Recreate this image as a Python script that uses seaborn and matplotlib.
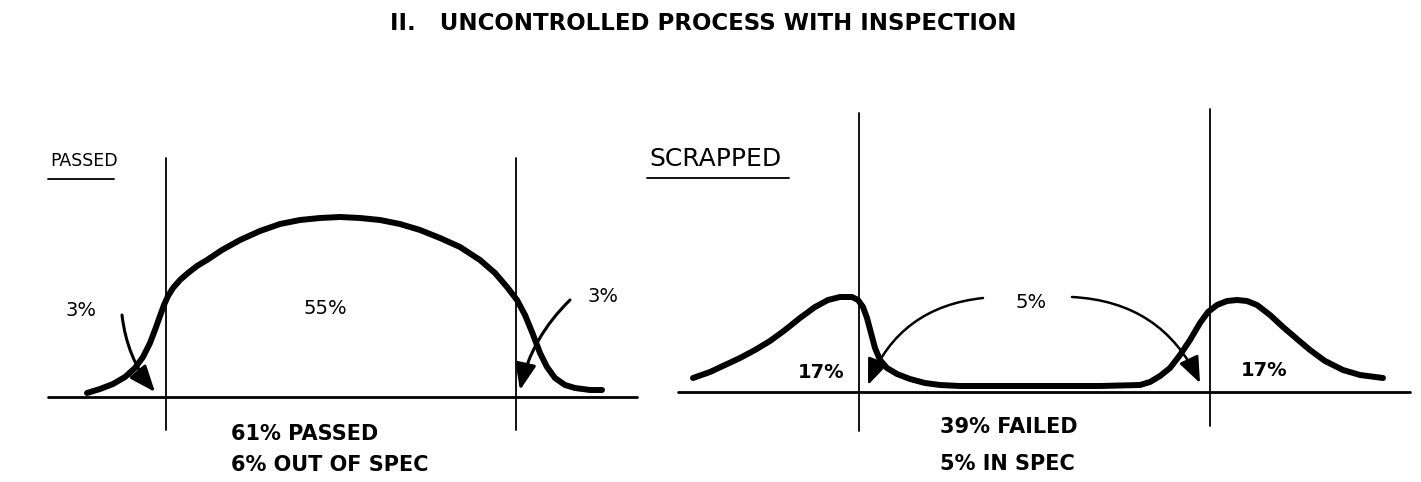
import matplotlib
matplotlib.use("Agg")
import matplotlib.pyplot as plt
import seaborn as sns
import pandas as pd
from matplotlib.patches import FancyArrowPatch

sns.set_theme(style="white")
plt.rcParams['font.family'] = ['DejaVu Sans']
plt.rcParams['text.color'] = 'black'

# ---- data (pixel-space readings from the reference) ----
title = "II.   UNCONTROLLED PROCESS WITH INSPECTION"

# PASSED panel: distribution curve (x, height)
passed_x = [87, 100, 113, 125, 135, 143, 150, 155, 160, 164, 168, 173, 180, 188, 197, 207, 222, 240, 260, 280, 300, 320,
            340, 360, 380, 400, 420, 440, 460, 480, 495, 507, 517, 525, 532, 540, 547, 555, 565, 575, 590, 602]
passed_y = [393, 389, 384, 377, 368, 357, 343, 330, 316, 305, 296, 288, 280, 273, 266, 260, 250, 240, 231, 224, 220, 218,
            217, 218, 220, 224, 230, 238, 247, 260, 273, 287, 300, 315, 332, 353, 367, 378, 385, 388, 390, 390]

# SCRAPPED panel: bimodal curve
scrap_x = [693, 710, 725, 740, 755, 770, 785, 800, 815, 828, 840, 852, 858, 863, 867, 871, 875, 880, 887, 897,
           910, 925, 940, 960, 1000, 1050, 1100, 1140, 1150, 1160, 1170, 1180, 1190, 1200, 1208, 1217, 1227,
           1237, 1247, 1257, 1270, 1283, 1297, 1310, 1325, 1343, 1360, 1383]
scrap_y = [378, 372, 365, 358, 350, 341, 330, 318, 307, 300, 297, 297, 300, 307, 318, 333, 348, 360, 368, 374,
           379, 383, 385, 386, 386, 386, 386, 385, 382, 376, 368, 355, 340, 323, 312, 305, 301,
           300, 301, 305, 315, 327, 339, 350, 361, 370, 375, 378]

passed_limits = [166, 516]
scrap_limits = [859, 1210]

passed_labels = ["3%", "55%", "3%"]
scrap_labels = ["17%", "5%", "17%"]
passed_summary = ["61% PASSED", "6% OUT OF SPEC"]
scrap_summary = ["39% FAILED", "5% IN SPEC"]
panel_names = ["PASSED", "SCRAPPED"]

# ---- figure ----
fig = plt.figure(figsize=(14.21, 4.82), dpi=100)
ax = fig.add_axes([0, 0, 1, 1])
ax.set_xlim(0, 1421)
ax.set_ylim(482, 0)
ax.axis("off")

df_p = pd.DataFrame({"x": passed_x, "y": passed_y})
df_s = pd.DataFrame({"x": scrap_x, "y": scrap_y})
sns.lineplot(data=df_p, x="x", y="y", sort=False, estimator=None, ax=ax,
             color="black", linewidth=4.3, solid_capstyle="round", solid_joinstyle="round")
sns.lineplot(data=df_s, x="x", y="y", sort=False, estimator=None, ax=ax,
             color="black", linewidth=4.3, solid_capstyle="round", solid_joinstyle="round")

# baselines
ax.plot([48, 637], [397, 397], color="black", lw=2.0)
ax.plot([678, 1410], [392, 392], color="black", lw=2.0)
# spec limits
ax.plot([passed_limits[0]] * 2, [158, 430], color="black", lw=1.3)
ax.plot([passed_limits[1]] * 2, [158, 430], color="black", lw=1.3)
ax.plot([scrap_limits[0]] * 2, [113, 431], color="black", lw=1.3)
ax.plot([scrap_limits[1]] * 2, [109, 426], color="black", lw=1.3)

ax.text(390, 24, title, ha="left", va="center", fontsize=16.5, fontweight="bold", color="black")

# panel names with underline
ax.text(50, 161, panel_names[0], ha="left", va="center", fontsize=12.5, color="black")
ax.plot([48, 114], [179, 179], color="black", lw=1.3)
ax.text(649, 159, panel_names[1], ha="left", va="center", fontsize=18, color="black")
ax.plot([647, 789], [178, 178], color="black", lw=1.3)

# region labels
lfs = 14
ax.text(81, 310, passed_labels[0], ha="center", va="center", fontsize=lfs, color="black")
ax.text(325, 308, passed_labels[1], ha="center", va="center", fontsize=lfs, color="black")
ax.text(603, 296, passed_labels[2], ha="center", va="center", fontsize=lfs, color="black")
ax.text(821, 372, scrap_labels[0], ha="center", va="center", fontsize=lfs, fontweight="bold", color="black")
ax.text(1031, 302, scrap_labels[1], ha="center", va="center", fontsize=lfs, color="black")
ax.text(1264, 370, scrap_labels[2], ha="center", va="center", fontsize=lfs, fontweight="bold", color="black")

# summaries
sfs = 15
ax.text(231, 434, passed_summary[0], ha="left", va="center", fontsize=sfs, fontweight="bold", color="black")
ax.text(231, 465, passed_summary[1], ha="left", va="center", fontsize=sfs, fontweight="bold", color="black")
ax.text(940, 427, scrap_summary[0], ha="left", va="center", fontsize=sfs, fontweight="bold", color="black")
ax.text(940, 464, scrap_summary[1], ha="left", va="center", fontsize=sfs, fontweight="bold", color="black")

def arrow(p0, p1, rad, lw=2.2):
    a = FancyArrowPatch(p0, p1, connectionstyle=f"arc3,rad={rad}",
                        arrowstyle="-|>,head_length=10,head_width=4",
                        color="black", lw=lw, mutation_scale=1.6, shrinkA=0, shrinkB=0)
    ax.add_patch(a)

arrow((122, 315), (155, 392), 0.15)
arrow((570, 300), (520, 390), 0.15)
arrow((983, 298), (868, 385), 0.3, lw=1.8)
arrow((1072, 297), (1200, 383), -0.3, lw=1.8)

fig.savefig("out.png", dpi=100, facecolor="white")
